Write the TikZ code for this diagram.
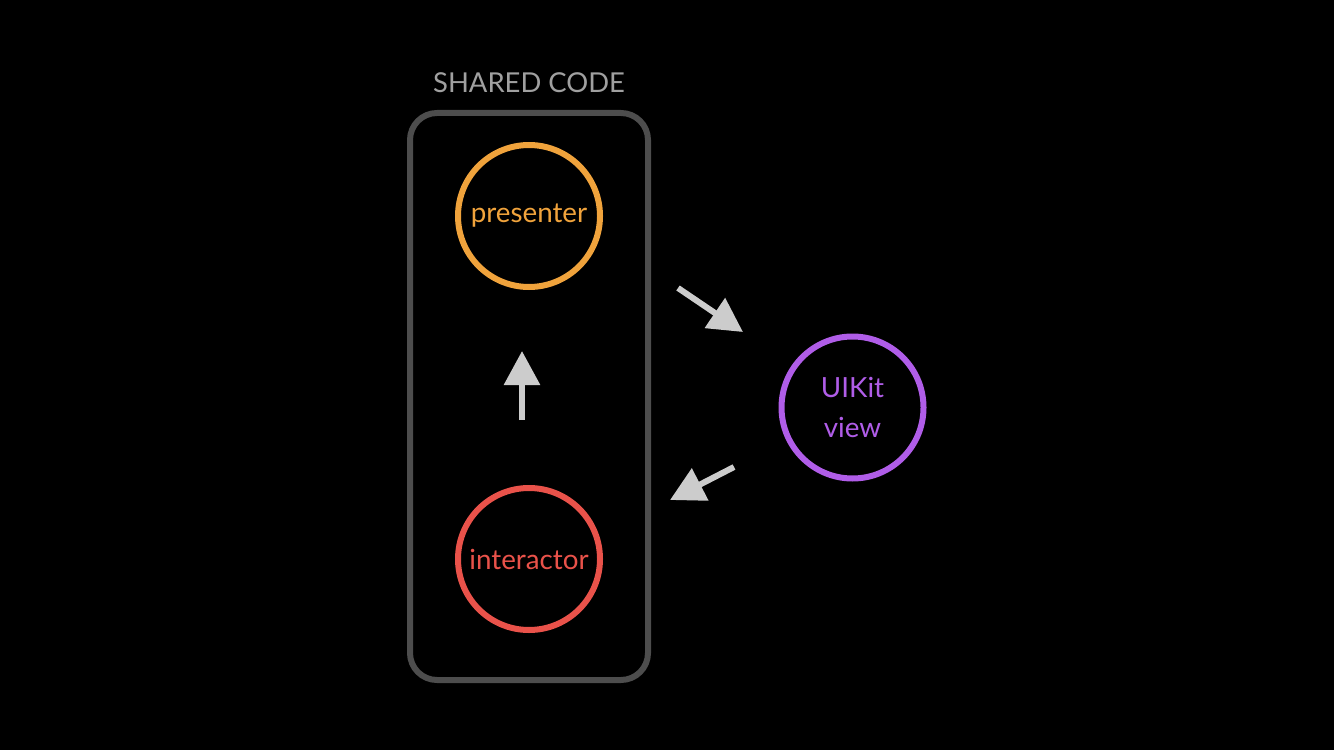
\documentclass[tikz,border=0pt]{standalone}
\usepackage{fontspec}
\setmainfont{Lato}
\usepackage{xcolor}
\usetikzlibrary{arrows.meta, positioning}

\definecolor{boxgray}{HTML}{4D4D4D}
\definecolor{labelgray}{HTML}{A0A0A0}
\definecolor{arrowgray}{HTML}{CCCCCC}
\definecolor{presorange}{HTML}{F0A33C}
\definecolor{interred}{HTML}{E9524A}
\definecolor{viewpurple}{HTML}{B05DE8}

\tikzset{
    layer/.style={circle, draw, line width=0.06cm, minimum size=1.42cm,
        inner sep=0pt, align=center, font=\fontsize{7.9}{11.6}\selectfont},
    flow/.style={draw=arrowgray, line width=0.06cm,
        -{Triangle[length=0.34cm, width=0.35cm]}}
}

\begin{document}
\begin{tikzpicture}
        \fill[black] (0,0) rectangle (13.34,7.5);
        \useasboundingbox (0,0) rectangle (13.34,7.5);

        \draw[boxgray, line width=0.06cm, rounded corners=0.27cm]
            (4.10,0.70) rectangle (6.48,6.37);
        \node[text=labelgray, font=\fontsize{7.8}{9}\selectfont] (shared) at (5.29,6.67) {SHARED CODE};

        \node[layer, presorange, text=presorange] (presenter) at (5.29,5.34) {presenter};
        \node[layer, interred, text=interred, below=3.43cm of presenter.center, anchor=center] (interactor) {interactor};
        \node[layer, viewpurple, text=viewpurple] (view) at (8.525,3.425) {UIKit\\view};

        \coordinate (up tail) at (5.22,3.30);
        \coordinate (up head) at (5.22,3.99);
        \coordinate (out tail) at (6.78,4.62);
        \coordinate (out head) at (7.43,4.18);
        \coordinate (in tail) at (7.34,2.83);
        \coordinate (in head) at (6.70,2.50);

        \draw[flow] (up tail) -- (up head);
        \draw[flow] (out tail) -- (out head);
        \draw[flow] (in tail) -- (in head);
\end{tikzpicture}
\end{document}
